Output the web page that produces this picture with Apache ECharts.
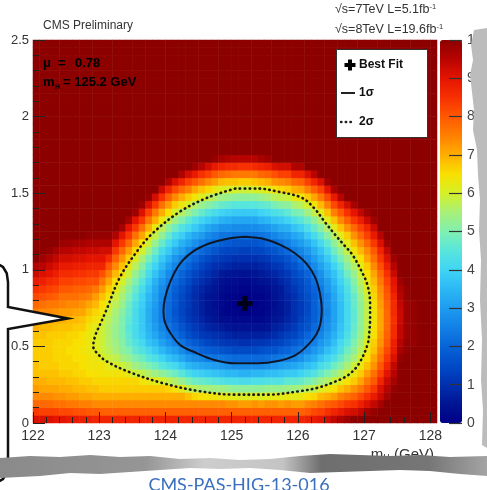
<!DOCTYPE html>
<html>
<head>
<meta charset="utf-8">
<script src="https://cdn.jsdelivr.net/npm/echarts@6/dist/echarts.min.js"></script>
<style>
  html, body { margin: 0; padding: 0; background: #fff; }
  #chart { width: 487px; height: 490px; }
</style>
</head>
<body>
<div id="chart"></div>
<script>
// Scan bin centres: Higgs mass (GeV), 0.1 GeV bins
const mhCentres = [
  122.05,122.15,122.25,122.35,122.45,122.55,122.65,122.75,122.85,122.95,
  123.05,123.15,123.25,123.35,123.45,123.55,123.65,123.75,123.85,123.95,
  124.05,124.15,124.25,124.35,124.45,124.55,124.65,124.75,124.85,124.95,
  125.05,125.15,125.25,125.35,125.45,125.55,125.65,125.75,125.85,125.95,
  126.05,126.15,126.25,126.35,126.45,126.55,126.65,126.75,126.85,126.95,
  127.05,127.15,127.25,127.35,127.45,127.55,127.65,127.75,127.85,127.95,
  128.05
];
// Scan bin centres: signal strength mu, 0.05 bins
const muCentres = [
  0.025,0.075,0.125,0.175,0.225,0.275,0.325,0.375,0.425,0.475,
  0.525,0.575,0.625,0.675,0.725,0.775,0.825,0.875,0.925,0.975,
  1.025,1.075,1.125,1.175,1.225,1.275,1.325,1.375,1.425,1.475,
  1.525,1.575,1.625,1.675,1.725,1.775,1.825,1.875,1.925,1.975,
  2.025,2.075,2.125,2.175,2.225,2.275,2.325,2.375,2.425,2.475
];

// -2 Delta lnL, one column per mH bin, listed from mu = 0.025 upwards (z axis capped at 10)
const twoDeltaNLL = [
  /*122.05*/ [9.1,8.4,7.8,7.4,7.2, 7.0,6.8,6.8,6.7,6.7, 6.7,6.8,7.0,7.2,7.5, 7.8,8.2,8.5,8.9,9.3, 9.6,
              10,10,10,10,10, 10,10,10,10,10, 10,10,10,10,10, 10,10,10,10,10, 10,10,10,10,10, 10,10,10,10],
  /*122.15*/ [9.1,8.3,7.8,7.4,7.1, 7.0,6.8,6.7,6.7,6.7, 6.7,6.8,6.9,7.2,7.4, 7.7,8.1,8.4,8.8,9.1, 9.5,9.8,
              10,10,10,10,10, 10,10,10,10,10, 10,10,10,10,10, 10,10,10,10,10, 10,10,10,10,10, 10,10,10],
  /*122.25*/ [9.1,8.3,7.8,7.4,7.1, 6.9,6.8,6.7,6.7,6.7, 6.7,6.7,6.9,7.1,7.4, 7.6,8.0,8.3,8.6,9.0, 9.3,9.6,9.9,
              10,10,10,10,10, 10,10,10,10,10, 10,10,10,10,10, 10,10,10,10,10, 10,10,10,10,10, 10,10],
  /*122.35*/ [9.0,8.3,7.7,7.3,7.1, 6.9,6.8,6.7,6.6,6.6, 6.6,6.7,6.8,7.0,7.3, 7.6,7.9,8.2,8.5,8.8, 9.1,9.4,9.7,
              10,10,10,10,10, 10,10,10,10,10, 10,10,10,10,10, 10,10,10,10,10, 10,10,10,10,10, 10,10],
  /*122.45*/ [9.0,8.2,7.7,7.3,7.0, 6.9,6.7,6.6,6.6,6.6, 6.6,6.7,6.8,7.0,7.2, 7.5,7.7,8.0,8.3,8.6, 8.9,9.2,9.5,9.8,
              10,10,10,10,10, 10,10,10,10,10, 10,10,10,10,10, 10,10,10,10,10, 10,10,10,10,10, 10],
  /*122.55*/ [8.9,8.2,7.6,7.2,7.0, 6.8,6.7,6.6,6.6,6.5, 6.6,6.6,6.8,6.9,7.2, 7.4,7.7,8.0,8.3,8.6, 8.9,9.2,9.5,9.8,
              10,10,10,10,10, 10,10,10,10,10, 10,10,10,10,10, 10,10,10,10,10, 10,10,10,10,10, 10],
  /*122.65*/ [8.9,8.1,7.6,7.2,6.9, 6.8,6.6,6.6,6.5,6.5, 6.5,6.6,6.7,6.9,7.1, 7.4,7.7,7.9,8.2,8.5, 8.8,9.1,9.4,9.7,
              10,10,10,10,10, 10,10,10,10,10, 10,10,10,10,10, 10,10,10,10,10, 10,10,10,10,10, 10],
  /*122.75*/ [8.8,8.1,7.5,7.1,6.9, 6.7,6.6,6.5,6.5,6.4, 6.5,6.5,6.7,6.8,7.1, 7.3,7.6,7.9,8.2,8.5, 8.8,9.1,9.4,9.7,
              10,10,10,10,10, 10,10,10,10,10, 10,10,10,10,10, 10,10,10,10,10, 10,10,10,10,10, 10],
  /*122.85*/ [8.8,8.0,7.5,7.1,6.8, 6.7,6.5,6.4,6.4,6.3, 6.3,6.3,6.4,6.6,6.8, 7.1,7.5,7.8,8.1,8.4, 8.7,9.0,9.3,9.6,9.9,
              10,10,10,10,10, 10,10,10,10,10, 10,10,10,10,10, 10,10,10,10,10, 10,10,10,10,10],
  /*122.95*/ [8.7,8.0,7.4,7.0,6.8, 6.6,6.5,6.4,6.3,6.2, 6.1,6.1,6.2,6.4,6.6, 6.9,7.2,7.6,8.1,8.4, 8.7,9.0,9.3,9.6,9.9,
              10,10,10,10,10, 10,10,10,10,10, 10,10,10,10,10, 10,10,10,10,10, 10,10,10,10,10],
  /*123.05*/ [8.7,7.9,7.4,7.0,6.7, 6.6,6.4,6.4,6.1,5.9, 5.9,5.9,5.9,6.1,6.3, 6.5,6.8,7.2,7.6,8.1, 8.7,9.0,9.2,9.6,9.9,
              10,10,10,10,10, 10,10,10,10,10, 10,10,10,10,10, 10,10,10,10,10, 10,10,10,10,10],
  /*123.15*/ [8.7,7.9,7.4,7.0,6.7, 6.6,6.4,6.2,5.9,5.7, 5.6,5.6,5.6,5.7,5.9, 6.1,6.4,6.7,7.1,7.5, 8.0,8.6,9.2,9.6,9.9,
              10,10,10,10,10, 10,10,10,10,10, 10,10,10,10,10, 10,10,10,10,10, 10,10,10,10,10],
  /*123.25*/ [8.7,7.9,7.4,7.0,6.7, 6.6,6.4,6.1,5.8,5.5, 5.4,5.3,5.3,5.4,5.5, 5.7,5.9,6.2,6.5,6.9, 7.4,7.9,8.4,9.0,9.6,
              10,10,10,10,10, 10,10,10,10,10, 10,10,10,10,10, 10,10,10,10,10, 10,10,10,10,10],
  /*123.35*/ [8.7,7.9,7.4,7.0,6.7, 6.6,6.4,5.9,5.5,5.2, 5.1,5.0,5.0,5.0,5.1, 5.3,5.5,5.7,6.0,6.4, 6.8,7.3,7.8,8.4,9.0, 9.7,
              10,10,10,10, 10,10,10,10,10, 10,10,10,10,10, 10,10,10,10,10, 10,10,10,10,10],
  /*123.45*/ [8.7,7.9,7.4,7.0,6.7, 6.6,6.2,5.7,5.3,5.0, 4.7,4.6,4.5,4.6,4.7, 4.8,5.0,5.2,5.5,5.9, 6.3,6.7,7.2,7.8,8.4, 9.0,9.7,
              10,10,10, 10,10,10,10,10, 10,10,10,10,10, 10,10,10,10,10, 10,10,10,10,10],
  /*123.55*/ [8.7,7.9,7.4,7.0,6.7, 6.6,5.9,5.4,5.0,4.6, 4.4,4.2,4.2,4.2,4.2, 4.3,4.5,4.7,5.0,5.3, 5.7,6.1,6.6,7.1,7.7, 8.4,9.0,9.8,
              10,10, 10,10,10,10,10, 10,10,10,10,10, 10,10,10,10,10, 10,10,10,10,10],
  /*123.65*/ [8.7,7.9,7.4,7.0,6.7, 6.4,5.8,5.2,4.8,4.4, 4.1,3.9,3.8,3.8,3.8, 3.9,4.0,4.2,4.5,4.8, 5.1,5.5,6.0,6.5,7.1, 7.7,8.4,9.1,9.8,
              10, 10,10,10,10,10, 10,10,10,10,10, 10,10,10,10,10, 10,10,10,10,10],
  /*123.75*/ [8.7,7.9,7.4,7.0,6.7, 6.3,5.6,5.0,4.5,4.1, 3.7,3.5,3.4,3.3,3.3, 3.4,3.5,3.7,3.9,4.2, 4.5,4.9,5.4,5.9,6.4, 7.0,7.6,8.3,9.1,9.9,
              10,10,10,10,10, 10,10,10,10,10, 10,10,10,10,10, 10,10,10,10,10],
  /*123.85*/ [8.7,7.9,7.4,7.0,6.7, 6.2,5.4,4.8,4.3,3.8, 3.5,3.2,3.0,2.9,2.9, 3.0,3.1,3.2,3.4,3.7, 4.0,4.4,4.8,5.3,5.8, 6.3,7.0,7.6,8.4,9.2,
              10,10,10,10,10, 10,10,10,10,10, 10,10,10,10,10, 10,10,10,10,10],
  /*123.95*/ [8.7,7.9,7.4,7.0,6.7, 6.0,5.2,4.5,4.0,3.5, 3.1,2.8,2.6,2.5,2.5, 2.5,2.6,2.7,2.9,3.2, 3.5,3.8,4.2,4.7,5.2, 5.7,6.3,7.0,7.7,8.5, 9.3,
              10,10,10,10, 10,10,10,10,10, 10,10,10,10,10, 10,10,10,10,10],
  /*124.05*/ [8.7,7.9,7.4,7.0,6.6, 5.8,5.0,4.3,3.7,3.2, 2.8,2.5,2.3,2.1,2.1, 2.1,2.2,2.3,2.5,2.7, 3.0,3.4,3.8,4.2,4.7, 5.2,5.8,6.5,7.2,7.9, 8.7,9.6,
              10,10,10, 10,10,10,10,10, 10,10,10,10,10, 10,10,10,10,10],
  /*124.15*/ [8.7,7.9,7.4,7.0,6.4, 5.6,4.8,4.1,3.5,3.0, 2.5,2.2,2.0,1.8,1.7, 1.8,1.8,1.9,2.1,2.3, 2.6,2.9,3.3,3.8,4.2, 4.8,5.4,6.0,6.7,7.4, 8.2,9.1,
              10,10,10, 10,10,10,10,10, 10,10,10,10,10, 10,10,10,10,10],
  /*124.25*/ [8.7,7.9,7.4,7.0,6.2, 5.3,4.5,3.8,3.2,2.7, 2.3,1.9,1.7,1.5,1.4, 1.4,1.5,1.6,1.8,2.0, 2.3,2.6,3.0,3.4,3.9, 4.4,5.0,5.6,6.3,7.0, 7.8,8.7,9.6,
              10,10, 10,10,10,10,10, 10,10,10,10,10, 10,10,10,10,10],
  /*124.35*/ [8.7,7.9,7.4,6.8,5.8, 5.0,4.2,3.5,2.9,2.4, 2.0,1.6,1.4,1.2,1.1, 1.2,1.2,1.3,1.5,1.7, 2.0,2.3,2.6,3.1,3.5, 4.1,4.6,5.3,6.0,6.7, 7.5,8.3,9.2,
              10,10, 10,10,10,10,10, 10,10,10,10,10, 10,10,10,10,10],
  /*124.45*/ [8.7,7.9,7.4,6.6,5.7, 4.8,4.0,3.3,2.7,2.2, 1.8,1.4,1.2,1.0,0.9, 0.9,0.9,1.0,1.2,1.4, 1.7,2.0,2.3,2.8,3.2, 3.8,4.3,5.0,5.6,6.4, 7.1,8.0,8.9,9.8,
              10, 10,10,10,10,10, 10,10,10,10,10, 10,10,10,10,10],
  /*124.55*/ [8.7,7.9,7.4,6.5,5.5, 4.7,3.9,3.2,2.6,2.0, 1.6,1.2,1.0,0.8,0.7, 0.7,0.7,0.8,1.0,1.2, 1.4,1.7,2.1,2.5,3.0, 3.5,4.0,4.7,5.3,6.1, 6.8,7.7,8.5,9.5,
              10, 10,10,10,10,10, 10,10,10,10,10, 10,10,10,10,10],
  /*124.65*/ [8.7,7.9,7.4,6.4,5.5, 4.6,3.8,3.1,2.4,1.9, 1.4,1.1,0.8,0.6,0.5, 0.5,0.5,0.6,0.8,1.0, 1.2,1.5,1.9,2.3,2.7, 3.2,3.8,4.4,5.1,5.8, 6.6,7.4,8.3,9.2,
              10, 10,10,10,10,10, 10,10,10,10,10, 10,10,10,10,10],
  /*124.75*/ [8.7,7.9,7.4,6.4,5.4, 4.5,3.7,3.0,2.3,1.8, 1.3,1.0,0.7,0.5,0.4, 0.3,0.4,0.5,0.6,0.8, 1.0,1.3,1.7,2.1,2.5, 3.0,3.6,4.2,4.9,5.6, 6.3,7.2,8.0,8.9,9.9,
              10,10,10,10,10, 10,10,10,10,10, 10,10,10,10,10],
  /*124.85*/ [8.7,7.9,7.4,6.3,5.4, 4.4,3.6,2.9,2.3,1.7, 1.2,0.9,0.6,0.3,0.2, 0.2,0.2,0.3,0.4,0.6, 0.9,1.2,1.5,1.9,2.3, 2.8,3.4,4.0,4.7,5.4, 6.1,6.9,7.8,8.7,9.7,
              10,10,10,10,10, 10,10,10,10,10, 10,10,10,10,10],
  /*124.95*/ [8.7,7.9,7.3,6.2,5.3, 4.3,3.5,2.8,2.2,1.6, 1.1,0.8,0.5,0.3,0.1, 0.1,0.1,0.2,0.3,0.5, 0.8,1.1,1.4,1.8,2.3, 2.8,3.3,3.9,4.6,5.3, 6.0,6.8,7.7,8.6,9.6,
              10,10,10,10,10, 10,10,10,10,10, 10,10,10,10,10],
  /*125.05*/ [8.7,7.9,7.3,6.2,5.2, 4.3,3.5,2.7,2.1,1.5, 1.1,0.7,0.4,0.2,0.1, 0.0,0.1,0.2,0.3,0.5, 0.7,1.0,1.4,1.7,2.2, 2.7,3.2,3.8,4.5,5.2, 6.0,6.8,7.6,8.6,9.5,
              10,10,10,10,10, 10,10,10,10,10, 10,10,10,10,10],
  /*125.15*/ [8.7,7.9,7.2,6.1,5.2, 4.2,3.4,2.7,2.1,1.5, 1.0,0.7,0.4,0.2,0.0, 0.0,0.0,0.1,0.2,0.4, 0.7,1.0,1.3,1.7,2.2, 2.7,3.2,3.8,4.5,5.2, 5.9,6.7,7.6,8.5,9.5,
              10,10,10,10,10, 10,10,10,10,10, 10,10,10,10,10],
  /*125.25*/ [8.7,7.9,7.2,6.1,5.2, 4.2,3.4,2.7,2.1,1.5, 1.0,0.7,0.4,0.2,0.0, 0.0,0.0,0.1,0.2,0.4, 0.7,1.0,1.3,1.7,2.2, 2.7,3.2,3.8,4.5,5.2, 5.9,6.7,7.6,8.5,9.5,
              10,10,10,10,10, 10,10,10,10,10, 10,10,10,10,10],
  /*125.35*/ [8.7,7.9,7.3,6.2,5.2, 4.3,3.5,2.7,2.1,1.5, 1.1,0.7,0.4,0.2,0.1, 0.0,0.1,0.2,0.3,0.5, 0.7,1.0,1.4,1.7,2.2, 2.7,3.2,3.8,4.5,5.2, 6.0,6.8,7.6,8.6,9.5,
              10,10,10,10,10, 10,10,10,10,10, 10,10,10,10,10],
  /*125.45*/ [8.7,7.9,7.2,6.1,5.2, 4.3,3.5,2.7,2.1,1.6, 1.1,0.7,0.4,0.2,0.1, 0.1,0.1,0.2,0.4,0.6, 0.8,1.1,1.4,1.8,2.3, 2.8,3.4,4.0,4.6,5.3, 6.1,6.9,7.8,8.7,9.7,
              10,10,10,10,10, 10,10,10,10,10, 10,10,10,10,10],
  /*125.55*/ [8.7,7.9,7.3,6.2,5.3, 4.4,3.6,2.8,2.2,1.7, 1.2,0.8,0.5,0.3,0.2, 0.2,0.2,0.3,0.5,0.7, 0.9,1.2,1.6,2.0,2.4, 2.9,3.5,4.1,4.7,5.5, 6.2,7.0,7.9,8.8,9.8,
              10,10,10,10,10, 10,10,10,10,10, 10,10,10,10,10],
  /*125.65*/ [8.7,7.9,7.3,6.3,5.3, 4.4,3.6,2.9,2.3,1.7, 1.3,0.9,0.7,0.5,0.4, 0.3,0.4,0.5,0.6,0.8, 1.1,1.4,1.7,2.1,2.6, 3.1,3.7,4.3,4.9,5.7, 6.4,7.3,8.1,9.1,
              10, 10,10,10,10,10, 10,10,10,10,10, 10,10,10,10,10],
  /*125.75*/ [8.7,7.9,7.2,6.2,5.3, 4.4,3.7,3.0,2.4,1.9, 1.4,1.1,0.8,0.6,0.5, 0.5,0.6,0.6,0.8,1.0, 1.2,1.5,1.9,2.3,2.8, 3.3,3.8,4.4,5.1,5.8, 6.6,7.4,8.3,9.2,
              10, 10,10,10,10,10, 10,10,10,10,10, 10,10,10,10,10],
  /*125.85*/ [8.7,7.9,7.3,6.3,5.4, 4.6,3.8,3.1,2.5,2.0, 1.6,1.3,1.0,0.8,0.7, 0.7,0.8,0.9,1.0,1.2, 1.5,1.7,2.1,2.5,2.9, 3.4,4.0,4.6,5.2,5.9, 6.7,7.5,8.3,9.2,
              10, 10,10,10,10,10, 10,10,10,10,10, 10,10,10,10,10],
  /*125.95*/ [8.7,7.9,7.2,6.2,5.4, 4.6,3.8,3.2,2.6,2.2, 1.8,1.4,1.2,1.0,1.0, 1.0,1.0,1.1,1.3,1.5, 1.7,2.0,2.4,2.8,3.2, 3.7,4.3,4.9,5.5,6.3, 7.0,7.8,8.7,9.6,
              10, 10,10,10,10,10, 10,10,10,10,10, 10,10,10,10,10],
  /*126.05*/ [8.7,7.9,7.2,6.3,5.5, 4.7,4.0,3.4,2.8,2.4, 2.0,1.7,1.5,1.3,1.2, 1.2,1.3,1.4,1.5,1.7, 2.0,2.3,2.6,3.0,3.4, 3.9,4.5,5.0,5.7,6.4, 7.1,7.9,8.7,9.6,
              10, 10,10,10,10,10, 10,10,10,10,10, 10,10,10,10,10],
  /*126.15*/ [8.8,8.0,7.4,6.5,5.7, 4.9,4.2,3.6,3.1,2.6, 2.3,2.0,1.7,1.6,1.5, 1.5,1.6,1.7,1.8,2.0, 2.3,2.6,2.9,3.3,3.8, 4.3,4.8,5.4,6.0,6.7, 7.5,8.3,9.1,
              10,10, 10,10,10,10,10, 10,10,10,10,10, 10,10,10,10,10],
  /*126.25*/ [8.9,8.2,7.5,6.6,5.8, 5.1,4.4,3.8,3.3,2.9, 2.5,2.3,2.1,1.9,1.9, 1.9,1.9,2.0,2.2,2.4, 2.7,3.0,3.3,3.7,4.2, 4.7,5.2,5.8,6.4,7.1, 7.9,8.7,9.5,
              10,10, 10,10,10,10,10, 10,10,10,10,10, 10,10,10,10,10],
  /*126.35*/ [9.0,8.3,7.7,6.9,6.1, 5.4,4.7,4.2,3.7,3.2, 2.9,2.6,2.4,2.3,2.2, 2.3,2.3,2.4,2.6,2.8, 3.1,3.4,3.7,4.1,4.6, 5.1,5.6,6.2,6.9,7.6, 8.3,9.1,
              10,10,10, 10,10,10,10,10, 10,10,10,10,10, 10,10,10,10,10],
  /*126.45*/ [9.2,8.5,7.9,7.0,6.3, 5.6,5.0,4.4,4.0,3.6, 3.2,3.0,2.8,2.7,2.6, 2.7,2.7,2.9,3.0,3.3, 3.5,3.8,4.2,4.6,5.1, 5.6,6.2,6.8,7.5,8.2, 9.0,9.8,
              10,10,10, 10,10,10,10,10, 10,10,10,10,10, 10,10,10,10,10],
  /*126.55*/ [9.4,8.7,8.0,7.2,6.5, 5.9,5.3,4.8,4.3,3.9, 3.6,3.4,3.2,3.1,3.1, 3.1,3.2,3.3,3.5,3.7, 4.0,4.4,4.8,5.2,5.7, 6.2,6.8,7.5,8.2,8.9, 9.7,
              10,10,10,10, 10,10,10,10,10, 10,10,10,10,10, 10,10,10,10,10],
  /*126.65*/ [9.6,8.9,8.2,7.5,6.8, 6.2,5.6,5.1,4.7,4.3, 4.1,3.8,3.7,3.6,3.6, 3.6,3.7,3.8,4.0,4.2, 4.5,4.9,5.3,5.7,6.2, 6.8,7.4,8.0,8.7,9.5,
              10,10,10,10,10, 10,10,10,10,10, 10,10,10,10,10, 10,10,10,10,10],
  /*126.75*/ [9.8,9.1,8.4,7.7,7.0, 6.5,5.9,5.5,5.1,4.8, 4.5,4.3,4.1,4.1,4.1, 4.1,4.2,4.3,4.5,4.8, 5.1,5.4,5.8,6.2,6.7, 7.3,7.9,8.5,9.2,
              10, 10,10,10,10,10, 10,10,10,10,10, 10,10,10,10,10, 10,10,10,10,10],
  /*126.85*/ [10,9.2,8.5,7.9,7.3, 6.7,6.3,5.9,5.5,5.2, 5.0,4.8,4.7,4.6,4.6, 4.7,4.7,4.9,5.1,5.3, 5.6,6.0,6.4,6.8,7.3, 7.8,8.4,9.0,9.7,
              10, 10,10,10,10,10, 10,10,10,10,10, 10,10,10,10,10, 10,10,10,10,10],
  /*126.95*/ [10,9.4,8.8,8.2,7.6, 7.1,6.7,6.3,6.0,5.7, 5.5,5.3,5.2,5.2,5.2, 5.2,5.3,5.5,5.7,5.9, 6.2,6.5,6.9,7.3,7.8, 8.3,8.8,9.4,
              10,10, 10,10,10,10,10, 10,10,10,10,10, 10,10,10,10,10, 10,10,10,10,10],
  /*127.05*/ [10,9.7,9.1,8.5,8.0, 7.6,7.2,6.8,6.5,6.3, 6.1,5.9,5.8,5.8,5.8, 5.8,5.9,6.1,6.3,6.5, 6.7,7.1,7.4,7.8,8.3, 8.7,9.3,9.8,
              10,10, 10,10,10,10,10, 10,10,10,10,10, 10,10,10,10,10, 10,10,10,10,10],
  /*127.15*/ [10,9.9,9.4,8.9,8.4, 8.0,7.7,7.3,7.1,6.8, 6.7,6.5,6.5,6.4,6.4, 6.5,6.6,6.7,6.9,7.1, 7.4,7.7,8.0,8.4,8.9, 9.3,9.8,
              10,10,10, 10,10,10,10,10, 10,10,10,10,10, 10,10,10,10,10, 10,10,10,10,10],
  /*127.25*/ [10,10,9.7,9.3,9.1, 8.7,8.3,8.0,7.7,7.5, 7.3,7.2,7.1,7.1,7.1, 7.2,7.3,7.4,7.6,7.8, 8.1,8.4,8.7,9.1,9.5,
              10,10,10,10,10, 10,10,10,10,10, 10,10,10,10,10, 10,10,10,10,10, 10,10,10,10,10],
  /*127.35*/ [10,10,10,9.7,9.5, 9.3,9.0,8.7,8.4,8.2, 8.0,7.9,7.8,7.8,7.8, 7.9,8.0,8.1,8.3,8.5, 8.8,9.1,9.4,9.8,
              10, 10,10,10,10,10, 10,10,10,10,10, 10,10,10,10,10, 10,10,10,10,10, 10,10,10,10,10],
  /*127.45*/ [10,10,10,10,9.9, 9.7,9.5,9.4,9.1,8.9, 8.8,8.6,8.6,8.5,8.6, 8.6,8.7,8.9,9.0,9.3, 9.5,9.8,
              10,10,10, 10,10,10,10,10, 10,10,10,10,10, 10,10,10,10,10, 10,10,10,10,10, 10,10,10,10,10],
  /*127.55*/ [10,10,10,10,10, 10,10,10,9.9,9.7, 9.5,9.4,9.4,9.3,9.3, 9.4,9.5,9.6,9.8,
              10, 10,10,10,10,10, 10,10,10,10,10, 10,10,10,10,10, 10,10,10,10,10, 10,10,10,10,10, 10,10,10,10,10],
  /*127.65*/ [10,10,10,10,10, 10,10,10,10,9.9, 9.9,9.8,9.8,9.8,9.8, 9.8,9.9,9.9,
              10,10, 10,10,10,10,10, 10,10,10,10,10, 10,10,10,10,10, 10,10,10,10,10, 10,10,10,10,10, 10,10,10,10,10],
  /*127.75*/ [10,10,10,10,10, 10,10,10,10,10, 9.9,9.9,9.9,9.9,9.9, 9.9,
              10,10,10,10, 10,10,10,10,10, 10,10,10,10,10, 10,10,10,10,10, 10,10,10,10,10, 10,10,10,10,10, 10,10,10,10,10],
  /*127.85*/ [10,10,10,10,10, 10,10,10,10,10, 10,10,10,10,10, 10,10,10,10,10, 10,10,10,10,10,
              10,10,10,10,10, 10,10,10,10,10, 10,10,10,10,10, 10,10,10,10,10, 10,10,10,10,10],
  /*127.95*/ [10,10,10,10,10, 10,10,10,10,10, 10,10,10,10,10, 10,10,10,10,10, 10,10,10,10,10,
              10,10,10,10,10, 10,10,10,10,10, 10,10,10,10,10, 10,10,10,10,10, 10,10,10,10,10],
  /*128.05*/ [10,10,10,10,10, 10,10,10,10,10, 10,10,10,10,10, 10,10,10,10,10, 10,10,10,10,10,
              10,10,10,10,10, 10,10,10,10,10, 10,10,10,10,10, 10,10,10,10,10, 10,10,10,10,10]
];

// 68% CL (1 sigma) contour, [mH, mu]
const contour1Sigma = [
  [125.2,1.215],[125.5,1.2],[125.75,1.16],[125.95,1.11],[126.13,1.04],[126.26,0.95],
  [126.33,0.85],[126.36,0.74],[126.34,0.65],[126.28,0.58],[126.13,0.50],[125.95,0.44],
  [125.7,0.405],[125.4,0.39],[125.05,0.39],[124.75,0.41],[124.45,0.46],[124.22,0.51],
  [124.07,0.59],[123.99,0.66],[123.97,0.73],[123.99,0.81],[124.07,0.92],[124.22,1.04],
  [124.42,1.12],[124.65,1.17],[124.9,1.20],[125.2,1.215]
];
// 95% CL (2 sigma) contour, [mH, mu]
const contour2Sigma = [
  [125.05,1.53],[125.4,1.53],[125.7,1.51],[126.06,1.47],[126.25,1.40],[126.41,1.31],
  [126.56,1.23],[126.7,1.16],[126.82,1.10],[126.95,1.00],[127.05,0.90],[127.09,0.78],
  [127.09,0.69],[127.08,0.60],[127.05,0.51],[126.91,0.38],[126.75,0.31],[126.56,0.27],
  [126.3,0.23],[126.06,0.21],[125.55,0.185],[125.05,0.185],[124.48,0.21],[123.96,0.26],
  [123.47,0.33],[123.12,0.40],[122.98,0.45],[122.91,0.50],[122.94,0.57],[123.02,0.65],
  [123.12,0.75],[123.31,0.95],[123.57,1.12],[123.81,1.24],[124.22,1.38],[124.63,1.47],
  [125.05,1.53]
];
const bestFit = [125.2, 0.78];

// Axis ticks
const mhMajorTicks = [122, 123, 124, 125, 126, 127, 128];
const mhMinorTicks = [122.2,122.4,122.6,122.8,123.2,123.4,123.6,123.8,124.2,124.4,124.6,124.8,
                      125.2,125.4,125.6,125.8,126.2,126.4,126.6,126.8,127.2,127.4,127.6,127.8];
const muMajorTicks = [0, 0.5, 1, 1.5, 2, 2.5];
const muMinorTicks = [0.1,0.2,0.3,0.4,0.6,0.7,0.8,0.9,1.1,1.2,1.3,1.4,1.6,1.7,1.8,1.9,2.1,2.2,2.3,2.4];
const scaleTicks = [0,1,2,3,4,5,6,7,8,9,10];

// Rainbow palette, 0 -> 10 in steps of 0.5
const paletteStops = [
  '#000086','#001594','#0030b0','#004ac6','#0864d8','#1280e6','#1e9cf0','#2cb8f4',
  '#40d4f4','#58e6dc','#80f0b0','#a8f078','#d4f028','#f8e000','#ffae00','#ff8000',
  '#ff5800','#f83000','#e41400','#b80400','#8c0000'
];

const FONT = 'Liberation Sans, Arial, Helvetica, sans-serif';

const cells = [];
twoDeltaNLL.forEach((col, i) => col.forEach((v, j) => cells.push([i, j, v])));

// plus-shaped marker outline centred on (cx, cy)
function plusPoints(cx, cy, half, arm) {
  return [[-arm,-half],[arm,-half],[arm,-arm],[half,-arm],[half,arm],[arm,arm],[arm,half],
          [-arm,half],[-arm,arm],[-half,arm],[-half,-arm],[-arm,-arm]].map(p => [cx + p[0], cy + p[1]]);
}

const tickLine = { color: '#222', width: 1 };

const option = {
  animation: false,
  backgroundColor: '#ffffff',
  textStyle: { fontFamily: FONT },
  grid: [
    { left: 33, top: 40, width: 404, height: 383 },
    { left: 440, top: 40, width: 22, height: 383 }
  ],
  xAxis: [
    { type: 'category', gridIndex: 0, data: mhCentres.map(String), show: false },
    { type: 'value', gridIndex: 0, min: 122, max: 128.1, position: 'bottom', z: 5,
      axisLine: { show: false, onZero: false },
      axisTick: { inside: true, length: 11, customValues: mhMajorTicks, lineStyle: tickLine },
      axisLabel: { customValues: mhMajorTicks, fontSize: 14, color: '#333', margin: 6, fontFamily: FONT },
      splitLine: { show: false } },
    { type: 'value', gridIndex: 0, min: 122, max: 128.1, position: 'bottom', z: 5,
      axisLine: { show: false, onZero: false },
      axisTick: { inside: true, length: 6, customValues: mhMinorTicks, lineStyle: tickLine },
      axisLabel: { show: false }, splitLine: { show: false } },
    { type: 'value', gridIndex: 1, min: 0, max: 1, show: false }
  ],
  yAxis: [
    { type: 'category', gridIndex: 0, data: muCentres.map(String), show: false },
    { type: 'value', gridIndex: 0, min: 0, max: 2.5, position: 'left', z: 5,
      axisLine: { show: false, onZero: false },
      axisTick: { inside: true, length: 12, customValues: muMajorTicks, lineStyle: tickLine },
      axisLabel: { customValues: muMajorTicks, fontSize: 13, color: '#333', margin: 4, fontFamily: FONT },
      splitLine: { show: false } },
    { type: 'value', gridIndex: 0, min: 0, max: 2.5, position: 'left', z: 5,
      axisLine: { show: false, onZero: false },
      axisTick: { inside: true, length: 6, customValues: muMinorTicks, lineStyle: tickLine },
      axisLabel: { show: false }, splitLine: { show: false } },
    { type: 'value', gridIndex: 1, min: 0, max: 10, position: 'right', z: 10,
      axisLine: { show: false, onZero: false },
      axisTick: { inside: true, length: 13, customValues: scaleTicks, lineStyle: { color: '#333', width: 1.2 } },
      axisLabel: { customValues: scaleTicks, fontSize: 14, color: '#444', margin: 5, fontFamily: FONT },
      splitLine: { show: false } }
  ],
  visualMap: {
    type: 'continuous', min: 0, max: 10, seriesIndex: 0,
    calculable: false, hoverLink: false, realtime: false,
    left: 440, top: 40, itemWidth: 22, itemHeight: 383, padding: 0,
    inRange: { color: paletteStops }
  },
  series: [
    { type: 'heatmap', xAxisIndex: 0, yAxisIndex: 0, data: cells, silent: true,
      itemStyle: { borderWidth: 0 }, emphasis: { disabled: true }, progressive: 0 },
    { type: 'line', xAxisIndex: 1, yAxisIndex: 1, data: contour1Sigma, showSymbol: false,
      smooth: 0.35, silent: true, z: 3,
      lineStyle: { color: '#0e1628', width: 2 } },
    { type: 'line', xAxisIndex: 1, yAxisIndex: 1, data: contour2Sigma, showSymbol: false,
      smooth: 0.35, silent: true, z: 3,
      lineStyle: { color: '#1a1a1a', width: 2.6, type: [0.5, 4.4], cap: 'round' } },
    { type: 'scatter', xAxisIndex: 1, yAxisIndex: 1, data: [bestFit], silent: true, z: 4,
      symbol: 'path://M-1.5,-4.5H1.5V-1.5H4.5V1.5H1.5V4.5H-1.5V1.5H-4.5V-1.5H-1.5Z',
      symbolSize: 15, itemStyle: { color: '#000' } }
  ],
  graphic: [
    // header texts
    { type: 'text', z: 100, x: 43, y: 26, style: { text: 'CMS Preliminary', font: '12px ' + FONT, fill: '#333', verticalAlign: 'middle' } },
    { type: 'text', z: 100, x: 335, y: 10, style: { text: '√s=7TeV L=5.1fb{sup|-1}', font: '12.5px ' + FONT, fill: '#333', verticalAlign: 'middle',
        rich: { sup: { fontSize: 7.5, fontFamily: FONT, fill: '#333', padding: [0, 0, 6, 0] } } } },
    { type: 'text', z: 100, x: 335, y: 30, style: { text: '√s=8TeV L=19.6fb{sup|-1}', font: '12.5px ' + FONT, fill: '#333', verticalAlign: 'middle',
        rich: { sup: { fontSize: 7.5, fontFamily: FONT, fill: '#333', padding: [0, 0, 6, 0] } } } },
    // fit result
    { type: 'text', z: 100, x: 43, y: 63, style: { text: 'μ', font: 'bold 13px ' + FONT, fill: '#000', verticalAlign: 'middle' } },
    { type: 'text', z: 100, x: 58, y: 63, style: { text: '=', font: 'bold 13px ' + FONT, fill: '#000', verticalAlign: 'middle' } },
    { type: 'text', z: 100, x: 75, y: 63, style: { text: '0.78', font: 'bold 13px ' + FONT, fill: '#000', verticalAlign: 'middle' } },
    { type: 'text', z: 100, x: 43, y: 82, style: { text: 'm', font: 'bold 13px ' + FONT, fill: '#000', verticalAlign: 'middle' } },
    { type: 'text', z: 100, x: 55, y: 87, style: { text: 'H', font: 'bold 7px ' + FONT, fill: '#000', verticalAlign: 'middle' } },
    { type: 'text', z: 100, x: 63, y: 82, style: { text: '= 125.2 GeV', font: 'bold 13px ' + FONT, fill: '#000', verticalAlign: 'middle' } },
    // legend box
    { type: 'rect', z: 100, shape: { x: 336.5, y: 49.5, width: 91, height: 88 }, style: { fill: '#fff', stroke: '#333', lineWidth: 1 } },
    { type: 'polygon', z: 101, shape: { points: plusPoints(350, 65, 5.5, 2) }, style: { fill: '#000' } },
    { type: 'text', z: 101, x: 359, y: 65, style: { text: 'Best Fit', font: 'bold 12px ' + FONT, fill: '#111', verticalAlign: 'middle' } },
    { type: 'line', z: 101, shape: { x1: 341, y1: 93, x2: 355, y2: 93 }, style: { stroke: '#222', lineWidth: 2 } },
    { type: 'text', z: 101, x: 359, y: 93, style: { text: '1σ', font: 'bold 12px ' + FONT, fill: '#111', verticalAlign: 'middle' } },
    { type: 'line', z: 101, shape: { x1: 341, y1: 122, x2: 355, y2: 122 }, style: { stroke: '#222', lineWidth: 2.4, lineDash: [0.5, 4.2], lineCap: 'round' } },
    { type: 'text', z: 101, x: 359, y: 122, style: { text: '2σ', font: 'bold 12px ' + FONT, fill: '#111', verticalAlign: 'middle' } },
    // axis title
    { type: 'text', z: 100, x: 434, y: 455, style: { text: 'm{sub|H} (GeV)', font: '15px ' + FONT, fill: '#333', align: 'right', verticalAlign: 'middle',
        rich: { sub: { fontSize: 9, fontFamily: FONT, fill: '#333', padding: [6, 0, 0, 0] } } } },
    // speech bubble
    { type: 'polygon', z: 110, shape: { points: [[-12,262],[-3.25,263.25],[3,267],[6.75,273.25],[8,282],[8,307],[68,318.5],[8,329],
        [8,464],[6.75,472.75],[3,479],[-3.25,482.75],[-12,484]] },
      style: { fill: '#fff', stroke: '#111', lineWidth: 2.5 } },
    // torn paper edges
    { type: 'polygon', z: 110, shape: { points: [[487,28],[474,30],[471,45],[473,60],[470,75],[472,92],[474,110],[473,130],[477,150],
        [478,175],[480,200],[479,230],[481,260],[480,300],[482,340],[481,380],[483,410],[482,445],[487,448]] },
      style: { fill: '#bcbcbc' } },
    { type: 'polygon', z: 110, shape: { points: [[0,458],[30,456],[60,457],[90,455],[120,457],[150,456],[180,459],[210,458],[240,460],
        [270,459],[300,456],[330,454],[360,455],[390,456],[420,455],[450,457],[487,456],
        [487,476],[460,474],[430,471],[400,470],[370,471],[340,472],[310,473],[280,470],[250,468],
        [220,469],[190,468],[160,470],[130,472],[100,474],[70,473],[40,476],[0,478]] },
      style: { fill: { type: 'linear', x: 0, y: 0, x2: 1, y2: 0, colorStops: [
        { offset: 0, color: '#8a8a8a' }, { offset: 0.3, color: '#969696' }, { offset: 0.42, color: '#cdcdcd' },
        { offset: 0.58, color: '#c4c4c4' }, { offset: 0.66, color: '#6e6e6e' }, { offset: 0.88, color: '#767676' },
        { offset: 1, color: '#a4a4a4' } ] } } },
    // document reference
    { type: 'text', z: 110, x: 239, y: 485, style: { text: 'CMS-PAS-HIG-13-016', font: '18px Lato, Open Sans, sans-serif', fill: '#3a6fc0', align: 'center', verticalAlign: 'middle' } }
  ]
};

const chart = echarts.init(document.getElementById('chart'), null, { renderer: 'canvas' });
chart.setOption(option);
</script>
</body>
</html>
